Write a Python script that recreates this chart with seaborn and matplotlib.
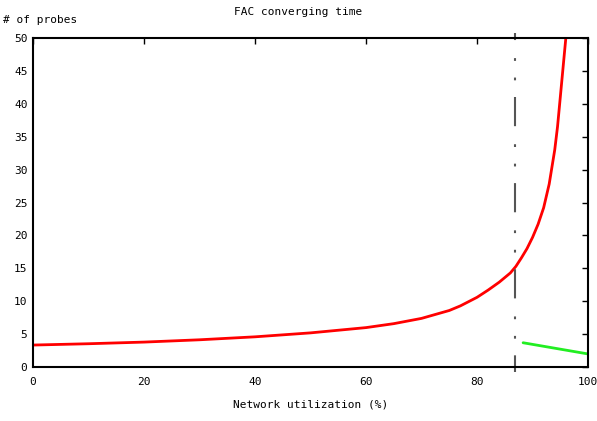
import numpy as np
import pandas as pd
import seaborn as sns
import matplotlib.pyplot as plt

# Werte
util = [0, 10, 20, 30, 40, 50, 60, 65, 70, 75, 77, 80, 82, 84, 86, 87, 88, 89, 90,
        91, 92, 93, 94, 94.5, 95.0, 95.5, 96.0, 96.2]
probes = [3.35, 3.55, 3.8, 4.15, 4.6, 5.2, 6.0, 6.6, 7.4, 8.6, 9.3, 10.6, 11.7, 12.9,
          14.3, 15.3, 16.6, 18.0, 19.7, 21.7, 24.2, 27.8, 33.0, 36.5, 41.0, 45.5, 50.0, 52.0]
util_after = [88.3, 100]
probes_after = [3.7, 2.0]
threshold = 86.9

xticks = [0, 20, 40, 60, 80, 100]
yticks = [0, 5, 10, 15, 20, 25, 30, 35, 40, 45, 50]

sns.set_style("white")
plt.rcParams['font.family'] = ['DejaVu Sans Mono']
plt.rcParams['lines.scale_dashes'] = False
plt.rcParams['text.color'] = 'black'
plt.rcParams['axes.labelcolor'] = 'black'

df = pd.DataFrame({'util': util, 'probes': probes})
df2 = pd.DataFrame({'util': util_after, 'probes': probes_after})

fig = plt.figure(figsize=(5.97, 4.21), dpi=100)
ax = fig.add_axes([0.0553, 0.128, 0.9297, 0.782])

sns.lineplot(x='util', y='probes', data=df, ax=ax, color='#ff0000', linewidth=2.0)
sns.lineplot(x='util', y='probes', data=df2, ax=ax, color='#22ee22', linewidth=2.0)
ax.axvline(threshold, ymin=-0.015, ymax=1.015, clip_on=False, color='#555555', linewidth=1.5,
           linestyle=(9, (21, 12, 2, 12, 2, 13)))

ax.set_xlim(0, 100)
ax.set_ylim(0, 50)
ax.set_xticks(xticks)
ax.set_yticks(yticks)
ax.tick_params(direction='in', length=4, width=1, top=True, right=True,
               labelsize=8, colors='black', pad=7)
ax.tick_params(axis='y', pad=4)
for s in ax.spines.values():
    s.set_linewidth(1.5)
    s.set_color('black')

ax.set_xlabel('Network utilization (%)', fontsize=8, labelpad=9)
ax.set_ylabel('')
fig.text(0.005, 0.953, '# of probes', fontsize=8, ha='left', va='center')
fig.text(0.5, 0.972, 'FAC converging time', fontsize=8, ha='center', va='center')

plt.savefig('out.png', dpi=100)
